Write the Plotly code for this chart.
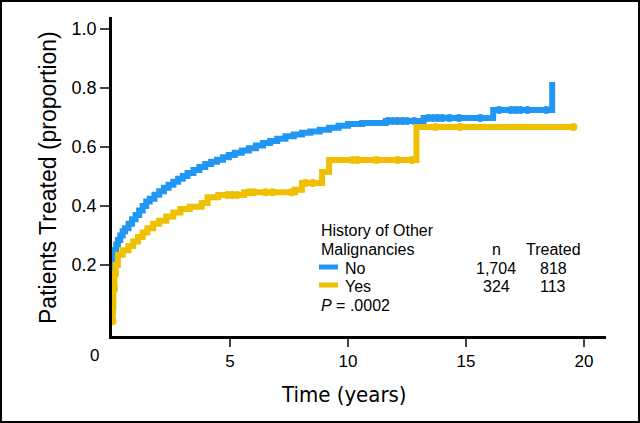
import numpy as np
import plotly.graph_objects as go

# ---- data ----
no_time = [0.0, 0.02, 0.05, 0.08, 0.12, 0.18, 0.25, 0.35, 0.45, 0.55, 0.7, 0.85, 1.0, 1.15, 1.3,
           1.45, 1.6, 1.8, 2.0, 2.2, 2.4, 2.6, 2.8, 3.0, 3.2, 3.45, 3.7, 3.95, 4.2, 4.45, 4.7,
           4.95, 5.2, 5.5, 5.8, 6.1, 6.4, 6.7, 7.0, 7.35, 7.7, 8.05, 8.4, 8.8, 9.2, 9.6, 10.0,
           10.6, 11.6, 13.2, 16.15, 18.65]
no_prop = [0.04, 0.12, 0.18, 0.22, 0.25, 0.27, 0.285, 0.3, 0.315, 0.325, 0.34, 0.355, 0.37,
           0.385, 0.4, 0.415, 0.425, 0.438, 0.45, 0.462, 0.472, 0.482, 0.492, 0.502, 0.512,
           0.522, 0.532, 0.542, 0.55, 0.557, 0.565, 0.573, 0.58, 0.588, 0.596, 0.605, 0.613,
           0.62, 0.628, 0.636, 0.642, 0.648, 0.652, 0.658, 0.665, 0.672, 0.678, 0.681, 0.688,
           0.698, 0.725, 0.82]
no_censor = [11.7, 11.9, 12.1, 12.3, 12.5, 12.8, 13.4, 13.6, 13.8, 14.0, 14.3, 14.7, 15.6,
             16.4, 16.9, 17.1, 17.3, 17.6, 18.4]

yes_time = [0.0, 0.03, 0.06, 0.1, 0.15, 0.25, 0.45, 0.7, 0.9, 1.1, 1.3, 1.5, 1.75, 2.0, 2.3,
            2.6, 2.9, 3.3, 3.8, 4.05, 4.5, 5.6, 7.75, 8.05, 8.9, 9.2, 12.9, 19.55]
yes_prop = [0.01, 0.06, 0.12, 0.17, 0.2, 0.235, 0.25, 0.265, 0.28, 0.295, 0.31, 0.325, 0.34,
            0.35, 0.365, 0.378, 0.39, 0.398, 0.41, 0.43, 0.437, 0.447, 0.455, 0.478, 0.515,
            0.556, 0.668, 0.668]
yes_censor = [0.02, 0.08, 0.12, 4.9, 5.1, 5.3, 5.8, 6.0, 6.5, 6.8, 7.6, 8.2, 8.5, 10.2, 10.4,
              11.2, 12.1, 12.7, 13.7, 14.75, 19.55]

groups = ["No", "Yes"]
group_n = ["1,704", "324"]
group_treated = ["818", "113"]
p_value = ".0002"

x_ticks = [5, 10, 15, 20]
y_ticks = [0.2, 0.4, 0.6, 0.8, 1.0]
y_tick_labels = ["0.2", "0.4", "0.6", "0.8", "1.0"]

BLUE = "#2196F3"
YELLOW = "#EEC000"


def step_value(times, props, t):
    i = np.searchsorted(np.asarray(times), t, side="right") - 1
    return float(np.asarray(props)[max(i, 0)])


fig = go.Figure()
for times, props, cens, col in [(no_time, no_prop, no_censor, BLUE),
                                 (yes_time, yes_prop, yes_censor, YELLOW)]:
    fig.add_trace(go.Scatter(x=times, y=props, mode="lines", line=dict(shape="hv", color=col, width=6),
                             showlegend=False, hoverinfo="skip"))
    fig.add_trace(go.Scatter(x=cens, y=[step_value(times, props, t) for t in cens], mode="markers",
                             marker=dict(color=col, size=8, symbol="circle"),
                             showlegend=False, hoverinfo="skip"))

L, R, T, B = 112, 34, 17, 87
W, H = 640, 423
PW, PH = W - L - R, H - T - B


def px(x):
    return (x - L) / PW


def py(y):
    return (H - B - y) / PH


font = "Liberation Sans, Arial, Helvetica, sans-serif"
fig.update_layout(
    width=W, height=H, margin=dict(l=L, r=R, t=T, b=B),
    paper_bgcolor="white", plot_bgcolor="white",
    font=dict(family=font, color="black"),
    xaxis=dict(range=[0, 20.93], tickvals=x_ticks, ticks="outside", ticklen=8, tickwidth=2,
               showline=True, linewidth=2.5, linecolor="black", showgrid=False, zeroline=False,
               tickfont=dict(size=17, family=font), fixedrange=True),
    yaxis=dict(range=[-0.04, 1.04], tickvals=y_ticks, ticktext=y_tick_labels, ticks="outside",
               ticklen=9, tickwidth=2, showline=True, linewidth=2.5, linecolor="black",
               showgrid=False, zeroline=False, tickfont=dict(size=18, family=font), fixedrange=True),
)


def note(text, x, y, size, anchor="center", **kw):
    return dict(text=text, x=px(x), y=py(y), xref="paper", yref="paper", xanchor=anchor,
                yanchor="middle", showarrow=False, font=dict(size=size, **kw.pop("fontkw", {})), **kw)


ann = []
ann.append(note("0", 94, 356, 17))
ann.append(note("Patients Treated (proportion)", 48, 178, 23, textangle=-90))
ann.append(note("Time (years)", 344, 394, 22,
                fontkw=dict(family="DejaVu Sans Condensed, Liberation Sans, Arial, sans-serif")))
lf = 16
ann.append(note("History of Other", 319, 231, lf, anchor="left"))
ann.append(note("Malignancies", 319, 249, lf, anchor="left"))
ann.append(note("n", 496, 249, lf))
ann.append(note("Treated", 553, 249, lf))
rows_y = [268, 286]
for g, n, tr, ry, col in zip(groups, group_n, group_treated, rows_y, [BLUE, YELLOW]):
    ann.append(note(g, 343, ry, lf, anchor="left"))
    ann.append(note(n, 496, ry, lf))
    ann.append(note(tr, 553, ry, lf))
    fig.add_shape(type="line", xref="paper", yref="paper", x0=px(319), x1=px(338),
                  y0=py(ry - 1), y1=py(ry - 1), line=dict(color=col, width=5))
ann.append(note("<i>P</i> = " + p_value, 319, 305, lf, anchor="left"))
fig.update_layout(annotations=ann)

# outer frame
fig.add_shape(type="rect", xref="paper", yref="paper", x0=px(1), x1=px(W - 1), y0=py(H - 1), y1=py(1),
              line=dict(color="black", width=2), fillcolor="rgba(0,0,0,0)", layer="below")

fig.write_html("out.html", config={"displayModeBar": False},
               post_script="document.body.style.margin='0';document.body.style.overflow='hidden';")
